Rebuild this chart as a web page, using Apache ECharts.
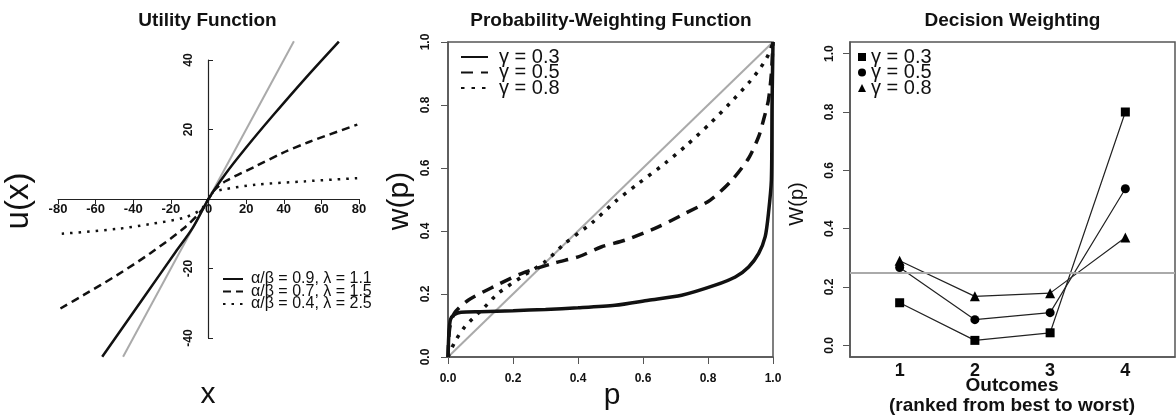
<!DOCTYPE html>
<html>
<head>
<meta charset="utf-8">
<script src="https://cdn.jsdelivr.net/npm/echarts@6.0.0/dist/echarts.min.js"></script>
<style>
  html, body { margin: 0; padding: 0; background: #fff; }
  #chart { width: 1176px; height: 419px; }
</style>
</head>
<body>
<div id="chart"></div>
<script>
// utility function panel, [x, u(x)]
var utilGray = [[-45.4, -45.4], [45.4, 45.4]];
var utilSolid = [[-56.5, -45.4], [-33.5, -27.6], [-17.4, -15.2], [-8.5, -8.4], [0, 0], [9, 7.2], [19.7, 14.6], [33.9, 23.8], [51.6, 34.8], [69.3, 45.3]];
var utilDashed = [[-78.7, -31.5], [-66.3, -27.6], [-48.6, -21.9], [-30.9, -15.6], [-13.1, -8.4], [-4, -3.5], [0, 0], [3, 2.5], [9, 5.1], [25, 9.4], [39.2, 13.2], [53.4, 16.4], [79.1, 21.4]];
var utilDotted = [[-78, -10], [-48.6, -8.6], [-30.9, -7.2], [-13.1, -5.4], [-4, -3], [0, 0], [2, 1.8], [7.3, 2.7], [25, 4.1], [51.6, 5.1], [79.1, 6]];
var utilNames = ['α/β = 0.9, λ = 1.1', 'α/β = 0.7, λ = 1.5', 'α/β = 0.4, λ = 2.5'];

// probability weighting panel, [p, w(p)]
var pwGray = [[0, 0], [1, 1]];
var pw03 = [[0, 0], [0.003, 0.08], [0.008, 0.12], [0.02, 0.135], [0.04, 0.142], [0.1, 0.144], [0.2, 0.147], [0.3, 0.151], [0.4, 0.156], [0.514, 0.164], [0.617, 0.18], [0.719, 0.196], [0.822, 0.228], [0.884, 0.254], [0.925, 0.286], [0.956, 0.329], [0.976, 0.382], [0.986, 0.456], [0.995, 0.562], [0.997, 0.795], [1, 1]];
var pw05 = [[0, 0], [0.005, 0.09], [0.02, 0.14], [0.062, 0.18], [0.144, 0.225], [0.226, 0.265], [0.329, 0.299], [0.401, 0.318], [0.473, 0.35], [0.545, 0.371], [0.647, 0.413], [0.73, 0.456], [0.807, 0.498], [0.874, 0.562], [0.925, 0.631], [0.956, 0.7], [0.971, 0.753], [0.986, 0.816], [0.995, 0.9], [1, 1]];
var pw08 = [[0, 0], [0.021, 0.048], [0.051, 0.095], [0.113, 0.159], [0.154, 0.202], [0.226, 0.254], [0.298, 0.302], [0.36, 0.361], [0.442, 0.425], [0.514, 0.493], [0.586, 0.551], [0.668, 0.615], [0.735, 0.673], [0.807, 0.742], [0.868, 0.806], [0.925, 0.87], [0.961, 0.917], [0.986, 0.96], [1, 1]];
var gammaNames = ['γ = 0.3', 'γ = 0.5', 'γ = 0.8'];

// decision weighting panel
var outcomes = [1, 2, 3, 4];
var dw03 = [0.146, 0.017, 0.043, 0.80];
var dw05 = [0.267, 0.088, 0.112, 0.537];
var dw08 = [0.29, 0.168, 0.179, 0.37];
var dwTicks = [0, 0.2, 0.4, 0.6, 0.8, 1.0];

function pairs(xs, ys) {
    return xs.map(function (x, i) { return [x, ys[i]]; });
}

var chart = echarts.init(document.getElementById('chart'));
var font = "'Liberation Sans', Arial, sans-serif";
var ink = '#111';
var frame = '#555';

function txt(x, y, s, size, bold, rot) {
    return {
        type: 'text', x: x, y: y, rotation: rot || 0,
        style: {
            text: s, fill: ink, font: (bold ? 'bold ' : '') + size + 'px ' + font,
            textAlign: 'center', textVerticalAlign: 'middle'
        }
    };
}

var tickLabel = {color: ink, fontFamily: font, fontWeight: 'bold', fontSize: 12};

var option = {
    backgroundColor: '#fff',
    animation: false,
    grid: [
        {left: 58, top: 60, width: 301, height: 278},
        {left: 448, top: 42, width: 325, height: 315, show: true, borderColor: frame, borderWidth: 1.5},
        {left: 850, top: 42, width: 325, height: 315, show: true, borderColor: frame, borderWidth: 1.5}
    ],
    xAxis: [
        {
            // crosses the y axis at 0
            gridIndex: 0, type: 'value', min: -80, max: 80, interval: 20, offset: -139,
            axisLine: {onZero: false, lineStyle: {color: '#222', width: 1.2}},
            axisTick: {length: 5, lineStyle: {color: '#222'}},
            axisLabel: Object.assign({}, tickLabel, {fontSize: 13, margin: 4}),
            splitLine: {show: false}
        },
        {
            gridIndex: 1, type: 'value', min: 0, max: 1, interval: 0.2,
            axisLine: {onZero: false, lineStyle: {color: frame, width: 1.5}},
            axisTick: {length: 7, lineStyle: {color: frame}},
            axisLabel: Object.assign({}, tickLabel, {margin: 16, formatter: function (v) { return v.toFixed(1); }}),
            splitLine: {show: false}
        },
        {
            gridIndex: 2, type: 'value', min: 0.34, max: 4.66,
            axisLine: {onZero: false, lineStyle: {color: frame, width: 1.5}},
            axisTick: {show: false},
            axisLabel: Object.assign({}, tickLabel, {fontSize: 18, margin: 5, customValues: outcomes}),
            splitLine: {show: false}
        }
    ],
    yAxis: [
        {
            gridIndex: 0, type: 'value', min: -40, max: 40, interval: 20, offset: -150,
            axisLine: {onZero: false, lineStyle: {color: '#222', width: 1.2}},
            axisTick: {inside: true, length: 5, lineStyle: {color: '#222'}},
            axisLabel: Object.assign({}, tickLabel, {
                rotate: 90, margin: 13,
                formatter: function (v) { return v === 0 ? '' : v; }
            }),
            splitLine: {show: false}
        },
        {
            gridIndex: 1, type: 'value', min: 0, max: 1, interval: 0.2,
            axisLine: {onZero: false, lineStyle: {color: frame, width: 1.5}},
            axisTick: {length: 7, lineStyle: {color: frame}},
            axisLabel: Object.assign({}, tickLabel, {rotate: 90, margin: 16, formatter: function (v) { return v.toFixed(1); }}),
            splitLine: {show: false}
        },
        {
            gridIndex: 2, type: 'value', min: -0.04, max: 1.04,
            axisLine: {onZero: false, lineStyle: {color: frame, width: 1.5}},
            axisTick: {length: 7, lineStyle: {color: frame}, customValues: dwTicks},
            axisLabel: Object.assign({}, tickLabel, {
                rotate: 90, margin: 14, customValues: dwTicks,
                formatter: function (v) { return v.toFixed(1); }
            }),
            splitLine: {show: false}
        }
    ],
    legend: [
        {
            left: 222, top: 271, orient: 'vertical', padding: 0, itemGap: -3.5,
            itemWidth: 20, itemHeight: 10, selectedMode: false,
            itemStyle: {opacity: 0},
            data: utilNames,
            textStyle: {color: ink, fontFamily: font, fontSize: 16, padding: [0, 0, 0, 3]}
        },
        {
            left: 460, top: 47, orient: 'vertical', padding: 0, itemGap: -4.5,
            itemWidth: 27, itemHeight: 10, selectedMode: false,
            itemStyle: {opacity: 0},
            data: gammaNames,
            textStyle: {color: ink, fontFamily: font, fontSize: 20, padding: [0, 0, 0, 6]}
        },
        {
            left: 858, top: 47, orient: 'vertical', padding: 0, itemGap: -4.5,
            itemWidth: 8, itemHeight: 8, selectedMode: false,
            data: [
                {name: 'W ' + gammaNames[0], icon: 'rect'},
                {name: 'W ' + gammaNames[1], icon: 'circle'},
                {name: 'W ' + gammaNames[2], icon: 'triangle'}
            ],
            formatter: function (n) { return n.replace('W ', ''); },
            textStyle: {color: ink, fontFamily: font, fontSize: 20}
        }
    ],
    graphic: [
        txt(207.5, 21, 'Utility Function', 19, true),
        txt(611, 21, 'Probability-Weighting Function', 19, true),
        txt(1012.5, 21, 'Decision Weighting', 19, true),
        txt(19, 201, 'u(x)', 33, false, Math.PI / 2),
        txt(208, 395, 'x', 30, false),
        txt(400, 201, 'w(p)', 30, false, Math.PI / 2),
        txt(612, 396, 'p', 30, false),
        txt(797, 204, 'W(p)', 20, false, Math.PI / 2),
        txt(1012, 386, 'Outcomes', 19, true),
        txt(1012, 406, '(ranked from best to worst)', 19, true)
    ],
    series: [
        // utility
        {
            name: 'gray0', type: 'line', xAxisIndex: 0, yAxisIndex: 0, data: utilGray,
            symbol: 'none', clip: false, lineStyle: {color: '#aaa', width: 2}, z: 1
        },
        {
            name: utilNames[0], type: 'line', xAxisIndex: 0, yAxisIndex: 0, data: utilSolid,
            symbol: 'none', smooth: 0.3, clip: false, color: '#111', lineStyle: {color: '#111', width: 2.5}
        },
        {
            name: utilNames[1], type: 'line', xAxisIndex: 0, yAxisIndex: 0, data: utilDashed,
            symbol: 'none', smooth: 0.3, clip: false, color: '#111', lineStyle: {color: '#111', width: 2.5, type: [8, 5]}
        },
        {
            name: utilNames[2], type: 'line', xAxisIndex: 0, yAxisIndex: 0, data: utilDotted,
            symbol: 'none', smooth: 0.3, clip: false, color: '#111', lineStyle: {color: '#111', width: 2.5, type: [2.5, 6]}
        },
        // probability weighting
        {
            name: 'gray1', type: 'line', xAxisIndex: 1, yAxisIndex: 1, data: pwGray,
            symbol: 'none', lineStyle: {color: '#aaa', width: 2}, z: 1
        },
        {
            name: gammaNames[0], type: 'line', xAxisIndex: 1, yAxisIndex: 1, data: pw03,
            symbol: 'none', smooth: 0.25, color: '#111', lineStyle: {color: '#111', width: 3.5}
        },
        {
            name: gammaNames[1], type: 'line', xAxisIndex: 1, yAxisIndex: 1, data: pw05,
            symbol: 'none', smooth: 0.25, color: '#111', lineStyle: {color: '#111', width: 3.5, type: [12, 8]}
        },
        {
            name: gammaNames[2], type: 'line', xAxisIndex: 1, yAxisIndex: 1, data: pw08,
            symbol: 'none', smooth: 0.25, color: '#111', lineStyle: {color: '#111', width: 3.5, type: [3.5, 7]}
        },
        // decision weighting
        {
            name: 'W ' + gammaNames[0], type: 'line', xAxisIndex: 2, yAxisIndex: 2, data: pairs(outcomes, dw03),
            symbol: 'rect', symbolSize: 9, color: '#000', lineStyle: {color: '#222', width: 1.2},
            markLine: {
                silent: true, symbol: 'none', label: {show: false},
                lineStyle: {color: '#aaa', type: 'solid', width: 2},
                data: [{yAxis: 0.25}]
            }
        },
        {
            name: 'W ' + gammaNames[1], type: 'line', xAxisIndex: 2, yAxisIndex: 2, data: pairs(outcomes, dw05),
            symbol: 'circle', symbolSize: 9, color: '#000', lineStyle: {color: '#222', width: 1.2}
        },
        {
            name: 'W ' + gammaNames[2], type: 'line', xAxisIndex: 2, yAxisIndex: 2, data: pairs(outcomes, dw08),
            symbol: 'triangle', symbolSize: 10, color: '#000', lineStyle: {color: '#222', width: 1.2}
        }
    ]
};

chart.setOption(option);
</script>
</body>
</html>
